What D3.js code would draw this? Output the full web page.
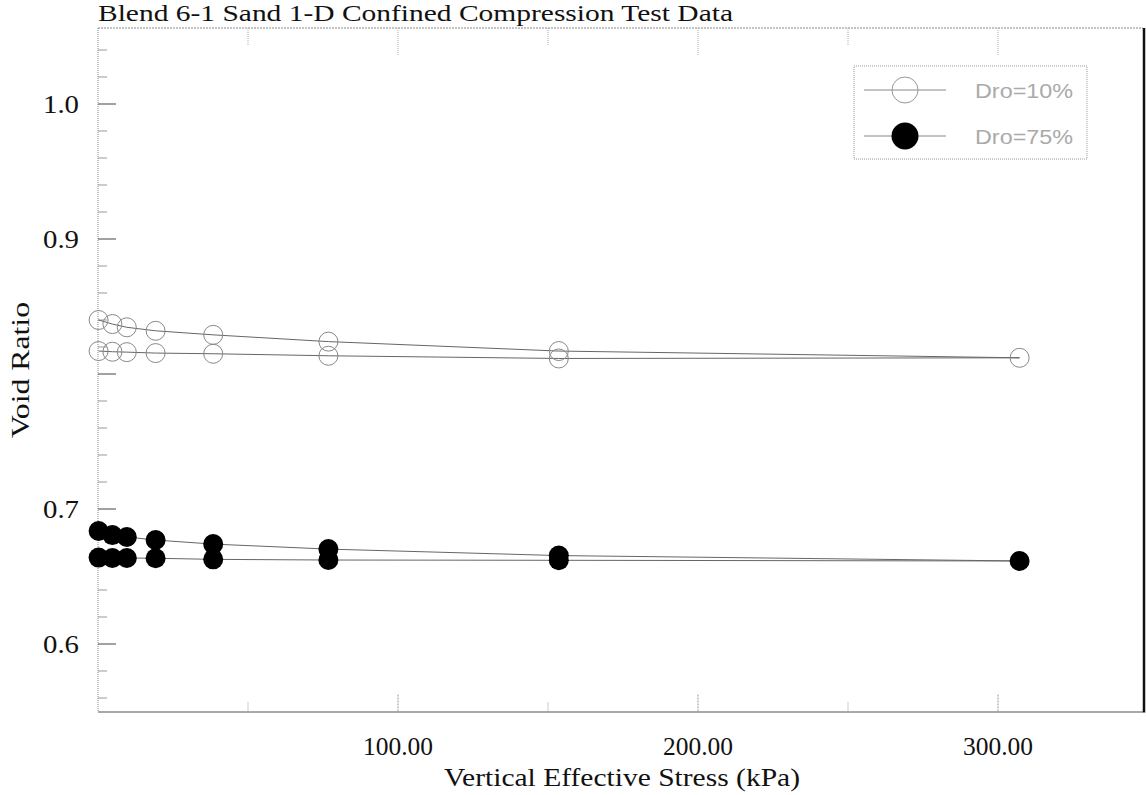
<!DOCTYPE html>
<html>
<head>
<meta charset="utf-8">
<script src="https://cdn.jsdelivr.net/npm/d3@7"></script>
<style>
  html, body { margin: 0; padding: 0; background: #fff; }
  svg { display: block; }
</style>
</head>
<body>
<svg id="chart" width="1146" height="795"></svg>
<script>
// ---- data ----
const stressLoad   = [0.2, 4.8, 9.6, 19.2, 38.4, 76.8, 153.6, 307.2];
const stressUnload = [153.6, 76.8, 38.4, 19.2, 9.6, 4.8, 0.2];
const dr10Load   = [0.840, 0.837, 0.8346, 0.832, 0.829, 0.824, 0.817, 0.812];
const dr10Unload = [0.8115, 0.8135, 0.8150, 0.8155, 0.8162, 0.8165, 0.8170];
const dr75Load   = [0.6837, 0.6807, 0.6793, 0.677, 0.674, 0.6703, 0.6655, 0.6615];
const dr75Unload = [0.6620, 0.6622, 0.6627, 0.6635, 0.6637, 0.6637, 0.6640];
const seriesNames = ["Dro=10%", "Dro=75%"];
const yTickLabels = [0.6, 0.7, 0.9, 1.0];
const xTickLabels = [100, 200, 300];
const titleText = "Blend 6-1 Sand 1-D Confined Compression Test Data";
const xTitle = "Vertical Effective Stress (kPa)";
const yTitle = "Void Ratio";

const svg = d3.select("#chart");
const L = 98, R = 1143, T = 28, B = 711.5;
const x = d3.scaleLinear().domain([0, 348.33]).range([L, R]);
const y = d3.scaleLinear().domain([0.55, 1.0563]).range([B, T]);
const serif = "'Liberation Serif', 'Times New Roman', serif";

// frame
svg.append("line").attr("x1", L).attr("x2", L).attr("y1", T).attr("y2", B)
  .attr("stroke", "#888").attr("stroke-width", 1).attr("stroke-dasharray", "1,1");
svg.append("line").attr("x1", L).attr("x2", R).attr("y1", T).attr("y2", T)
  .attr("stroke", "#888").attr("stroke-width", 1).attr("stroke-dasharray", "2,1");
svg.append("line").attr("x1", L).attr("x2", R).attr("y1", B + 0.5).attr("y2", B + 0.5)
  .attr("stroke", "#555").attr("stroke-width", 1.2);
svg.append("line").attr("x1", R + 1).attr("x2", R + 1).attr("y1", T).attr("y2", B + 1)
  .attr("stroke", "#111").attr("stroke-width", 2.5);

// y ticks (inner, left)
const yTicks = d3.range(0.56, 1.0401, 0.02);
yTicks.forEach(v => {
  const major = Math.abs(v * 10 - Math.round(v * 10)) < 1e-6;
  svg.append("line").attr("x1", L).attr("x2", L + (major ? 18 : 9))
    .attr("y1", y(v)).attr("y2", y(v))
    .attr("stroke", major ? "#444" : "#999").attr("stroke-width", 1);
});
svg.selectAll("text.ytl").data(yTickLabels).enter().append("text")
  .attr("class", "ytl")
  .attr("x", 43).attr("y", d => y(d) + 8.5)
  .attr("font-family", serif).attr("font-size", 25)
  .attr("fill", "#111")
  .attr("textLength", 36).attr("lengthAdjust", "spacingAndGlyphs")
  .text(d => d.toFixed(1));

// x ticks (bottom and top)
d3.range(50, 348, 50).forEach(v => {
  const major = v % 100 === 0;
  svg.append("line").attr("x1", x(v)).attr("x2", x(v))
    .attr("y1", B).attr("y2", B - (major ? 18 : 9))
    .attr("stroke", "#999").attr("stroke-width", 1).attr("stroke-dasharray", major ? "2,1" : "1,1");
  svg.append("line").attr("x1", x(v)).attr("x2", x(v))
    .attr("y1", T).attr("y2", T + (major ? 27 : 17))
    .attr("stroke", "#aaa").attr("stroke-width", 1).attr("stroke-dasharray", "1,1");
});
svg.selectAll("text.xtl").data(xTickLabels).enter().append("text")
  .attr("class", "xtl")
  .attr("x", d => x(d) - 35).attr("y", 755)
  .attr("font-family", serif).attr("font-size", 25)
  .attr("fill", "#111")
  .attr("textLength", 70).attr("lengthAdjust", "spacingAndGlyphs")
  .text(d => d.toFixed(2));

// titles
svg.append("text").attr("x", 98).attr("y", 21)
  .attr("font-family", serif).attr("font-size", 23).attr("fill", "#111")
  .attr("textLength", 635).attr("lengthAdjust", "spacingAndGlyphs")
  .text(titleText);
svg.append("text").attr("x", 444).attr("y", 786)
  .attr("font-family", serif).attr("font-size", 25).attr("fill", "#111")
  .attr("textLength", 356).attr("lengthAdjust", "spacingAndGlyphs")
  .text(xTitle);
svg.append("text")
  .attr("transform", "translate(29,438) rotate(-90)")
  .attr("font-family", serif).attr("font-size", 25).attr("fill", "#111")
  .attr("textLength", 136).attr("lengthAdjust", "spacingAndGlyphs")
  .text(yTitle);

// series
const line = d3.line().x(d => x(d[0])).y(d => y(d[1]));
function pts(load, unload) {
  return stressLoad.map((s, i) => [s, load[i]])
    .concat(stressUnload.map((s, i) => [s, unload[i]]));
}
const s10 = pts(dr10Load, dr10Unload);
const s75 = pts(dr75Load, dr75Unload);

svg.append("path").attr("d", line(s10)).attr("fill", "none")
  .attr("stroke", "#666").attr("stroke-width", 1);
svg.append("path").attr("d", line(s75)).attr("fill", "none")
  .attr("stroke", "#666").attr("stroke-width", 1);

svg.selectAll("circle.o").data(s10).enter().append("circle")
  .attr("class", "o")
  .attr("cx", d => x(d[0])).attr("cy", d => y(d[1])).attr("r", 9.5)
  .attr("fill", "none").attr("stroke", "#888").attr("stroke-width", 1);
svg.selectAll("circle.f").data(s75).enter().append("circle")
  .attr("class", "f")
  .attr("cx", d => x(d[0])).attr("cy", d => y(d[1])).attr("r", 10)
  .attr("fill", "#000");

// legend
const lg = svg.append("g");
lg.append("rect").attr("x", 854).attr("y", 66).attr("width", 233).attr("height", 93)
  .attr("fill", "#fff").attr("stroke", "#999").attr("stroke-width", 1)
  .attr("stroke-dasharray", "1,1");
seriesNames.forEach((name, i) => {
  const yy = 90 + i * 46;
  lg.append("line").attr("x1", 864).attr("x2", 946).attr("y1", yy).attr("y2", yy)
    .attr("stroke", "#888").attr("stroke-width", 1);
  if (i === 0) {
    lg.append("circle").attr("cx", 905).attr("cy", yy).attr("r", 13)
      .attr("fill", "none").attr("stroke", "#999").attr("stroke-width", 1);
  } else {
    lg.append("circle").attr("cx", 905).attr("cy", yy).attr("r", 13.5).attr("fill", "#000");
  }
  lg.append("text").attr("x", 975).attr("y", yy + 8)
    .attr("font-family", "'Liberation Sans', Arial, sans-serif").attr("font-size", 20)
    .attr("fill", "#aaa").attr("textLength", 98).attr("lengthAdjust", "spacingAndGlyphs")
    .text(name);
});
</script>
</body>
</html>
